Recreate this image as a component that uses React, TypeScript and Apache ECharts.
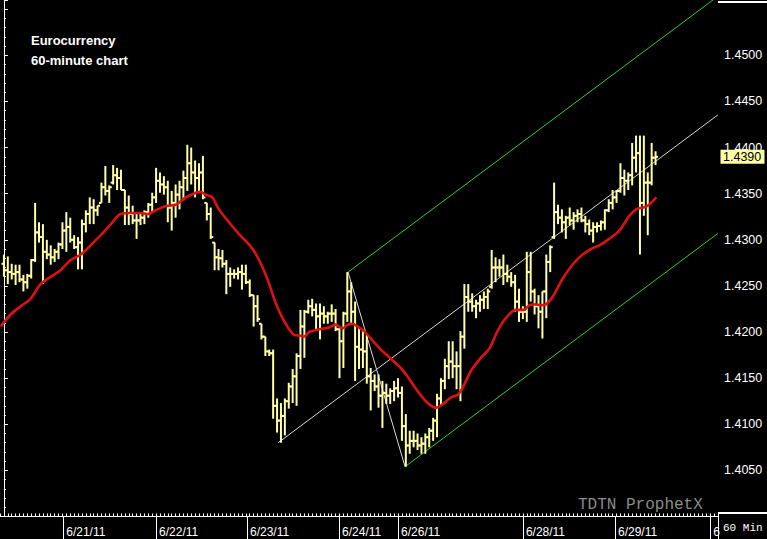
import React, { useEffect, useRef } from 'react';
import * as echarts from 'echarts';

// ---- OHLC data (60-minute bars) ----
const opens = [
  1.4274,1.4267,1.4265,1.4263,1.4265,1.4257,1.4254,1.4261,1.4278,1.4308,
  1.4303,1.4287,1.4284,1.4281,1.4287,1.4295,1.4310,1.4314,1.4300,1.4292,
  1.4297,1.4317,1.4328,1.4335,1.4332,1.4340,1.4357,1.4353,1.4362,1.4370,
  1.4367,1.4354,1.4335,1.4328,1.4321,1.4321,1.4324,1.4330,1.4338,1.4346,
  1.4364,1.4360,1.4357,1.4335,1.4340,1.4349,1.4357,1.4367,1.4383,1.4373,
  1.4367,1.4373,1.4340,1.4328,1.4297,1.4281,1.4280,1.4274,1.4263,1.4263,
  1.4263,1.4265,1.4263,1.4254,1.4240,1.4228,1.4209,1.4195,1.4179,1.4177,
  1.4120,1.4104,1.4109,1.4125,1.4141,1.4152,1.4174,1.4206,1.4222,1.4228,
  1.4224,1.4217,1.4220,1.4217,1.4220,1.4220,1.4203,1.4190,1.4220,1.4244,
  1.4222,1.4184,1.4181,1.4179,1.4152,1.4147,1.4141,1.4131,1.4134,1.4131,
  1.4136,1.4139,1.4134,1.4098,1.4077,1.4082,1.4082,1.4077,1.4079,1.4086,
  1.4093,1.4104,1.4128,1.4147,1.4163,1.4168,1.4163,1.4163,1.4195,1.4238,
  1.4233,1.4228,1.4231,1.4235,1.4238,1.4249,1.4270,1.4270,1.4270,1.4263,
  1.4260,1.4254,1.4233,1.4222,1.4222,1.4265,1.4244,1.4228,1.4222,1.4244,
  1.4276,1.4303,1.4330,1.4324,1.4319,1.4324,1.4321,1.4326,1.4328,1.4321,
  1.4317,1.4310,1.4314,1.4315,1.4319,1.4332,1.4340,1.4346,1.4353,1.4367,
  1.4364,1.4370,1.4389,1.4394,1.4340,1.4362,1.4362,1.4389,
];
const highs = [
  1.4284,1.4282,1.4274,1.4273,1.4273,1.4262,1.4263,1.4279,1.4340,1.4319,
  1.4317,1.4300,1.4294,1.4290,1.4297,1.4319,1.4330,1.4324,1.4305,1.4303,
  1.4322,1.4332,1.4346,1.4344,1.4337,1.4362,1.4380,1.4359,1.4381,1.4378,
  1.4376,1.4354,1.4348,1.4337,1.4328,1.4330,1.4332,1.4340,1.4351,1.4378,
  1.4373,1.4369,1.4364,1.4353,1.4360,1.4364,1.4375,1.4403,1.4400,1.4386,
  1.4383,1.4391,1.4340,1.4335,1.4297,1.4290,1.4289,1.4278,1.4270,1.4268,
  1.4270,1.4273,1.4273,1.4257,1.4240,1.4240,1.4209,1.4195,1.4181,1.4181,
  1.4128,1.4123,1.4128,1.4145,1.4160,1.4177,1.4224,1.4224,1.4235,1.4236,
  1.4231,1.4231,1.4228,1.4222,1.4230,1.4225,1.4204,1.4222,1.4265,1.4254,
  1.4233,1.4204,1.4201,1.4197,1.4161,1.4154,1.4154,1.4147,1.4144,1.4139,
  1.4147,1.4150,1.4141,1.4111,1.4093,1.4093,1.4090,1.4086,1.4090,1.4096,
  1.4107,1.4133,1.4150,1.4171,1.4190,1.4190,1.4179,1.4201,1.4252,1.4252,
  1.4242,1.4235,1.4240,1.4244,1.4247,1.4289,1.4281,1.4279,1.4284,1.4273,
  1.4265,1.4262,1.4247,1.4228,1.4287,1.4287,1.4247,1.4240,1.4244,1.4284,
  1.4294,1.4362,1.4338,1.4333,1.4326,1.4335,1.4330,1.4333,1.4335,1.4326,
  1.4322,1.4319,1.4319,1.4321,1.4333,1.4344,1.4354,1.4354,1.4383,1.4376,
  1.4373,1.4405,1.4413,1.4413,1.4413,1.4373,1.4405,1.4396,
];
const lows = [
  1.4260,1.4252,1.4257,1.4251,1.4254,1.4244,1.4247,1.4258,1.4276,1.4297,
  1.4252,1.4279,1.4273,1.4276,1.4279,1.4290,1.4287,1.4297,1.4290,1.4268,
  1.4268,1.4308,1.4317,1.4317,1.4326,1.4340,1.4348,1.4340,1.4360,1.4354,
  1.4354,1.4316,1.4316,1.4317,1.4301,1.4316,1.4317,1.4324,1.4330,1.4340,
  1.4351,1.4349,1.4319,1.4310,1.4324,1.4333,1.4343,1.4353,1.4360,1.4346,
  1.4351,1.4344,1.4321,1.4301,1.4267,1.4267,1.4270,1.4241,1.4249,1.4258,
  1.4257,1.4246,1.4252,1.4238,1.4206,1.4211,1.4192,1.4174,1.4174,1.4106,
  1.4091,1.4080,1.4088,1.4117,1.4123,1.4120,1.4160,1.4172,1.4220,1.4217,
  1.4203,1.4192,1.4209,1.4209,1.4211,1.4201,1.4150,1.4161,1.4211,1.4208,
  1.4147,1.4160,1.4161,1.4144,1.4115,1.4136,1.4118,1.4096,1.4122,1.4122,
  1.4125,1.4129,1.4082,1.4054,1.4068,1.4075,1.4072,1.4068,1.4068,1.4075,
  1.4082,1.4086,1.4120,1.4138,1.4149,1.4150,1.4138,1.4125,1.4182,1.4222,
  1.4222,1.4215,1.4222,1.4225,1.4225,1.4247,1.4254,1.4260,1.4251,1.4254,
  1.4249,1.4222,1.4211,1.4214,1.4211,1.4233,1.4219,1.4204,1.4193,1.4215,
  1.4265,1.4301,1.4317,1.4308,1.4301,1.4316,1.4311,1.4319,1.4319,1.4308,
  1.4305,1.4297,1.4308,1.4310,1.4311,1.4330,1.4333,1.4340,1.4351,1.4348,
  1.4354,1.4359,1.4373,1.4284,1.4326,1.4305,1.4359,1.4381,
];
const closes = [
  1.4267,1.4265,1.4263,1.4265,1.4257,1.4254,1.4261,1.4278,1.4308,1.4303,
  1.4287,1.4284,1.4281,1.4287,1.4295,1.4310,1.4314,1.4300,1.4292,1.4297,
  1.4317,1.4328,1.4335,1.4332,1.4337,1.4357,1.4353,1.4357,1.4370,1.4367,
  1.4354,1.4335,1.4328,1.4321,1.4321,1.4324,1.4330,1.4338,1.4346,1.4364,
  1.4360,1.4357,1.4335,1.4340,1.4349,1.4357,1.4367,1.4383,1.4373,1.4367,
  1.4373,1.4346,1.4328,1.4303,1.4281,1.4280,1.4274,1.4263,1.4263,1.4263,
  1.4265,1.4263,1.4254,1.4240,1.4228,1.4214,1.4195,1.4179,1.4177,1.4120,
  1.4104,1.4109,1.4125,1.4141,1.4152,1.4174,1.4206,1.4222,1.4228,1.4224,
  1.4217,1.4220,1.4217,1.4220,1.4220,1.4203,1.4190,1.4220,1.4244,1.4222,
  1.4184,1.4181,1.4179,1.4152,1.4147,1.4141,1.4131,1.4134,1.4131,1.4136,
  1.4139,1.4134,1.4098,1.4077,1.4082,1.4082,1.4077,1.4079,1.4086,1.4093,
  1.4104,1.4128,1.4147,1.4163,1.4168,1.4163,1.4163,1.4195,1.4238,1.4233,
  1.4228,1.4231,1.4235,1.4238,1.4244,1.4270,1.4270,1.4270,1.4263,1.4260,
  1.4254,1.4233,1.4222,1.4222,1.4265,1.4244,1.4228,1.4222,1.4244,1.4276,
  1.4292,1.4330,1.4324,1.4319,1.4324,1.4321,1.4326,1.4328,1.4321,1.4317,
  1.4310,1.4314,1.4315,1.4319,1.4332,1.4340,1.4346,1.4353,1.4367,1.4364,
  1.4370,1.4389,1.4394,1.4340,1.4362,1.4362,1.4389,1.4390,
];

// ---- moving average (red line), read at bar positions ----
const maIdx = [
  -0.8, 1.7, 4.3, 6.8, 9.4, 12, 14.5, 17.1, 19.7, 22.2,
  24.8, 27.4, 29.9, 32.5, 35, 36.8, 39.3, 41.9, 44, 46.6,
  49.2, 50.4, 51.7, 53.4, 55.1, 57.7, 60.3, 62.8, 64.5, 66.3,
  68, 69.7, 71.4, 73.1, 74.4, 76.1, 76.9, 78.2, 80.8, 83.3,
  85, 86.8, 88.1, 89.3, 90.6, 92.3, 94, 96.6, 99.2, 101.7,
  103.4, 106, 108.6, 110.7, 112.8, 114.5, 116.3, 117.5, 119.7, 122.2,
  124.4, 126.5, 128.6, 131.2, 133.3, 134.6, 135.9, 137.6, 138.9, 140.6,
  143.2, 145.7, 148.3, 150.9, 152.6, 155.1, 157.7, 160.3, 162, 163.7,
  165, 167.2,
];
const maVal = [
  1.4206, 1.4219, 1.4228, 1.4236, 1.4252, 1.4260, 1.4267, 1.4278, 1.4284, 1.4294,
  1.4305, 1.4317, 1.4328, 1.4329, 1.4329, 1.4328, 1.4333, 1.4337, 1.4338, 1.4346,
  1.4351, 1.4352, 1.4349, 1.4346, 1.4333, 1.4319, 1.4306, 1.4295, 1.4285, 1.4270,
  1.4252, 1.4231, 1.4215, 1.4203, 1.4197, 1.4196, 1.4195, 1.4200, 1.4203, 1.4205,
  1.4208, 1.4204, 1.4208, 1.4209, 1.4206, 1.4201, 1.4193, 1.4181, 1.4171, 1.4161,
  1.4152, 1.4136, 1.4123, 1.4118, 1.4123, 1.4129, 1.4132, 1.4139, 1.4158, 1.4172,
  1.4182, 1.4201, 1.4215, 1.4224, 1.4224, 1.4229, 1.4230, 1.4229, 1.4230, 1.4238,
  1.4258, 1.4273, 1.4284, 1.4291, 1.4294, 1.4301, 1.4310, 1.4326, 1.4333, 1.4335,
  1.4337, 1.4346,
];

// ---- Andrews pitchfork pivots (A low, B high, C low) ----
const pivotIdx = [70.3, 88.2, 102.8];
const pivotPrice = [1.4080, 1.4265, 1.4054];

// ---- axis labels ----
const daySep = [15.2, 39, 62.3, 85.9, 101, 133, 156.6, 181];
const dayLabels = ['6/21/11', '6/22/11', '6/23/11', '6/24/11', '6/26/11', '6/28/11', '6/29/11', '6'];
const lastPrice = 1.4390;

const X_MIN = -1;
const X_MAX = 183;
const SANS = '"Liberation Sans", Arial, sans-serif';
const MONO = '"Liberation Mono", "Courier New", monospace';
const BAR_COLOR = '#ffffa8';

export default function App() {
  const ref = useRef<HTMLDivElement>(null);

  useEffect(() => {
    if (!ref.current) return;
    const chart = echarts.init(ref.current, null, { renderer: 'svg' });

    const barData = opens.map((o, i) => [i, o, highs[i], lows[i], closes[i]]);
    const maData = maIdx.map((x, k) => [x, maVal[k]]);

    const [ax, bx, cx] = pivotIdx;
    const [ay, by, cy] = pivotPrice;
    const mx = (bx + cx) / 2;
    const my = (by + cy) / 2;
    const slope = (my - ay) / (mx - ax);
    const ext = (x0: number, y0: number) => [[x0, y0], [X_MAX, y0 + slope * (X_MAX - x0)]];

    const thin = (color: string, data: number[][]) => ({
      type: 'line',
      data,
      symbol: 'none',
      silent: true,
      clip: true,
      z: 1,
      lineStyle: { color, width: 1 },
    });

    const option: any = {
      animation: false,
      backgroundColor: '#000000',
      grid: { left: 0, right: 49, top: -4, bottom: 22.5, containLabel: false },
      xAxis: [
        {
          type: 'value',
          min: X_MIN,
          max: X_MAX,
          position: 'bottom',
          splitLine: { show: false },
          axisLine: { show: true, lineStyle: { color: '#ffffff', width: 1 } },
          axisTick: {
            show: true,
            customValues: daySep,
            length: 23,
            inside: false,
            lineStyle: { color: '#ffffff', width: 1 },
          },
          axisLabel: {
            show: true,
            customValues: daySep,
            color: '#ffffff',
            fontFamily: SANS,
            fontSize: 12,
            align: 'left',
            margin: 9,
            padding: [0, 0, 0, 3],
            formatter: (v: number) => {
              let best = 0;
              daySep.forEach((d, k) => {
                if (Math.abs(d - v) < Math.abs(daySep[best] - v)) best = k;
              });
              return dayLabels[best];
            },
          },
        },
        {
          type: 'value',
          min: X_MIN,
          max: X_MAX,
          interval: 1,
          position: 'bottom',
          splitLine: { show: false },
          axisLine: { show: true, lineStyle: { color: '#ffffff', width: 1 } },
          axisTick: { show: true, inside: true, length: 3, lineStyle: { color: '#ffffff', width: 1 } },
          axisLabel: { show: false },
        },
      ],
      yAxis: {
        type: 'value',
        position: 'right',
        min: 1.4,
        max: 1.456,
        interval: 0.005,
        splitLine: { show: false },
        axisLine: { show: true, lineStyle: { color: '#ffffff', width: 1 } },
        axisTick: { show: true, length: 4, lineStyle: { color: '#ffffff', width: 1 } },
        minorTick: { show: true, splitNumber: 5, length: 2, lineStyle: { color: '#ffffff', width: 1 } },
        axisLabel: {
          color: '#ffffff',
          fontFamily: SANS,
          fontSize: 12.5,
          margin: 6,
          formatter: (v: number) => (v < 1.4025 || v > 1.4525 ? '' : v.toFixed(4)),
        },
      },
      series: [
        thin('#d8d8d8', ext(ax, ay)),
        thin('#33cc33', ext(bx, by)),
        thin('#33cc33', ext(cx, cy)),
        thin('#d8d8d8', [[bx, by], [cx, cy]]),
        {
          type: 'custom',
          z: 2,
          silent: true,
          clip: true,
          data: barData,
          encode: { x: 0, y: [1, 2, 3, 4] },
          renderItem: (_params: any, api: any) => {
            const x = api.value(0);
            const pH = api.coord([x, api.value(2)]);
            const pL = api.coord([x, api.value(3)]);
            const pO = api.coord([x, api.value(1)]);
            const pC = api.coord([x, api.value(4)]);
            const style = { stroke: BAR_COLOR, lineWidth: 2 };
            return {
              type: 'group',
              children: [
                { type: 'line', shape: { x1: pH[0], y1: pH[1], x2: pL[0], y2: pL[1] }, style },
                { type: 'line', shape: { x1: pO[0] - 2.5, y1: pO[1], x2: pO[0], y2: pO[1] }, style },
                { type: 'line', shape: { x1: pC[0], y1: pC[1], x2: pC[0] + 2.5, y2: pC[1] }, style },
              ],
            };
          },
        },
        {
          type: 'line',
          data: maData,
          smooth: 0.3,
          symbol: 'none',
          silent: true,
          z: 3,
          lineStyle: { color: '#dd1111', width: 2.6 },
        },
      ],
      graphic: [
        {
          id: 't1',
          type: 'text',
          style: { x: 31, y: 40, text: 'Eurocurrency', fill: '#ffffff', font: `bold 13px ${SANS}`, verticalAlign: 'middle' },
        },
        {
          id: 't2',
          type: 'text',
          style: { x: 31, y: 60, text: '60-minute chart', fill: '#ffffff', font: `bold 13px ${SANS}`, verticalAlign: 'middle' },
        },
        {
          id: 'wm',
          type: 'text',
          style: { x: 578, y: 505, text: 'TDTN ProphetX', fill: '#8c8c8c', font: `16px ${MONO}`, verticalAlign: 'middle' },
        },
        { id: 'topline', type: 'rect', shape: { x: 718, y: 1, width: 49, height: 2 }, style: { fill: '#ffffff' } },
        { id: 'botline', type: 'rect', shape: { x: 718, y: 512, width: 49, height: 2 }, style: { fill: '#ffffff' } },
        { id: 'vline', type: 'line', shape: { x1: 718.5, y1: 514, x2: 718.5, y2: 539 }, style: { stroke: '#ffffff', lineWidth: 1 } },
        {
          id: 'min',
          type: 'text',
          style: { x: 723, y: 528, text: '60 Min', fill: '#ffffff', font: `11px ${MONO}`, verticalAlign: 'middle' },
        },
      ],
    };

    chart.setOption(option);

    // current-price tag on the price axis, placed through the axis scale
    const py = chart.convertToPixel({ yAxisIndex: 0 }, lastPrice) as number;
    chart.setOption({
      graphic: [
        {
          id: 'lastBox',
          type: 'rect',
          z: 100,
          shape: { x: 720.5, y: py - 7, width: 44, height: 14 },
          style: { fill: '#ffffa8' },
        },
        {
          id: 'lastText',
          type: 'text',
          z: 101,
          style: {
            x: 723,
            y: py + 0.5,
            text: lastPrice.toFixed(4),
            fill: '#000000',
            font: `12.5px ${SANS}`,
            verticalAlign: 'middle',
          },
        },
      ],
    });

    return () => chart.dispose();
  }, []);

  return (
    <div
      ref={ref}
      style={{ position: 'fixed', left: 0, top: 0, width: 767, height: 539, background: '#000000' }}
    />
  );
}
